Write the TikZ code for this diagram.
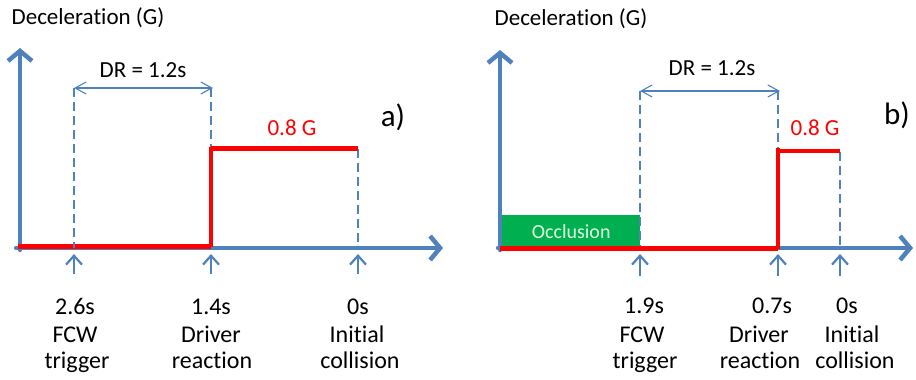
\documentclass[tikz,border=0pt]{standalone}
\usepackage{fontspec}
\setmainfont[Ligatures={NoCommon,NoContextual,NoRare}, Contextuals=NoAlternate]{Carlito}
\usetikzlibrary{arrows.meta}
\definecolor{axisblue}{HTML}{4F81BD}
\definecolor{occgreen}{HTML}{00B050}
\definecolor{redline}{HTML}{FF0000}
\begin{document}
\begin{tikzpicture}[x=1pt,y=-1pt,
  axisline/.style={draw=axisblue, line width=4.5pt, line cap=round, line join=round, -{Straight Barb[length=10pt,width=24pt]}},
  guide/.style={draw=axisblue, line width=1.4pt, dash pattern=on 9pt off 5pt},
  dimline/.style={draw=axisblue, line width=1.1pt, {Straight Barb[length=11pt,width=12pt]}-{Straight Barb[length=11pt,width=12pt]}},
  tickarrow/.style={draw=axisblue, line width=2.2pt, -{Straight Barb[length=9pt,width=16pt]}},
  pulse/.style={draw=redline, line width=4.5pt, line join=miter},
  lbl/.style={font=\fontsize{24}{28}\selectfont, anchor=base, inner sep=0pt},
  ttl/.style={font=\fontsize{23}{27}\selectfont, inner sep=0pt},
  redlbl/.style={font=\fontsize{23}{27}\selectfont, text=redline, inner sep=0pt},
  panel/.style={font=\fontsize{31}{36}\selectfont, inner sep=0pt},
  occl/.style={fill=occgreen, text=white!88!green, font=\fontsize{20}{24}\selectfont, minimum width=138pt, minimum height=33pt, inner sep=0pt, anchor=south west}
]
\useasboundingbox (0,0) rectangle (916,380);

% ---------------- panel a ----------------
\coordinate (aYb) at (20,250);
\coordinate (aYt) at (20,48);
\coordinate (aXl) at (16,248);
\coordinate (aXr) at (443,248);
\coordinate (aT1) at (74,88);   \coordinate (aB1) at (74,248);
\coordinate (aT2) at (211,88);  \coordinate (aB2) at (211,248);
\coordinate (aT3) at (358,149); \coordinate (aB3) at (358,248);
\coordinate (aK1s) at (74,274);  \coordinate (aK1e) at (74,254);
\coordinate (aK2s) at (211,274); \coordinate (aK2e) at (211,254);
\coordinate (aK3s) at (358,274); \coordinate (aK3e) at (358,254);
\coordinate (aR0) at (18,246.5);
\coordinate (aR1) at (211,246.5);
\coordinate (aR2) at (211,147);
\coordinate (aR3) at (358,148.5);

\draw[guide] (aT2) -- (aB2);
\draw[guide] (aT3) -- (aB3);
\draw[axisline] (aYb) -- (aYt);
\draw[axisline] (aXl) -- (aXr);
\draw[dimline] (aT1) -- ([xshift=2pt]aT2);
\draw[tickarrow] (aK1s) -- (aK1e);
\draw[tickarrow] (aK2s) -- (aK2e);
\draw[tickarrow] (aK3s) -- (aK3e);
\draw[pulse] (aR0) -- (aR1);
\draw[pulse] (aR3) -- (aR2 |- aR3) -- (aR2) -- (aR1);
\draw[guide] (aT1) -- (aB1);

\node[ttl] (aTitle) at (88,18) {Decelerat\kern0pt ion (G)};
\node[ttl] (aDR) at (143,70) {DR = 1.2s};
\node[redlbl] (aG) at (292,128) {0.8 G};
\node[panel] (aP) at (393,117) {a)};

\node[lbl] (a1t) at (75,314) {2.6s};
\node[lbl] (a1m) at (75,342) {FCW};
\node[lbl] (a1b) at (77,368) {trigger};
\node[lbl] (a2t) at (211,314) {1.4s};
\node[lbl] (a2m) at (211,342) {Driver};
\node[lbl] (a2b) at (212,368) {react\kern0pt ion};
\node[lbl] (a3t) at (358,314) {0s};
\node[lbl] (a3m) at (357,342) {Initial};
\node[lbl] (a3b) at (360,368) {collision};

% ---------------- panel b ----------------
\coordinate (bYb) at (500,250);
\coordinate (bYt) at (500,50);
\coordinate (bXl) at (498,248);
\coordinate (bXr) at (913,248);
\coordinate (bT1) at (640,91);  \coordinate (bB1) at (640,248);
\coordinate (bT2) at (778,91);  \coordinate (bB2) at (778,248);
\coordinate (bT3) at (840,152); \coordinate (bB3) at (840,248);
\coordinate (bK1s) at (640,276); \coordinate (bK1e) at (640,254);
\coordinate (bK2s) at (778,276); \coordinate (bK2e) at (778,254);
\coordinate (bK3s) at (840,276); \coordinate (bK3e) at (840,254);
\coordinate (bR0) at (500,248.5);
\coordinate (bR1) at (778,248.5);
\coordinate (bR2) at (778,148);
\coordinate (bR3) at (840,151);

\node[occl] (occ) at (502,248) {Occlusion};
\draw[guide] (bT1) -- (bB1);
\draw[guide] (bT2) -- (bB2);
\draw[guide] (bT3) -- (bB3);
\draw[axisline] (bYb) -- (bYt);
\draw[axisline] (bXl) -- (bXr);
\draw[dimline] (bT1) -- ([xshift=2pt]bT2);
\draw[tickarrow] (bK1s) -- (bK1e);
\draw[tickarrow] (bK2s) -- (bK2e);
\draw[tickarrow] (bK3s) -- (bK3e);
\draw[pulse] (bR0) -- (bR1);
\draw[pulse] (bR3) -- (bR2 |- bR3) -- (bR2) -- (bR1);

\node[ttl] (bTitle) at (571,19) {Decelerat\kern0pt ion (G)};
\node[ttl] (bDR) at (712,68) {DR = 1.2s};
\node[redlbl] (bG) at (815,128) {0.8 G};
\node[panel] (bP) at (897,115) {b)};

\node[lbl] (b1t) at (644,313) {1.9s};
\node[lbl] (b1m) at (642,342) {FCW};
\node[lbl] (b1b) at (645,368) {trigger};
\node[lbl] (b2t) at (772,313) {0.7s};
\node[lbl] (b2m) at (759,342) {Driver};
\node[lbl] (b2b) at (760,368) {react\kern0pt ion};
\node[lbl] (b3t) at (847,313) {0s};
\node[lbl] (b3m) at (852,342) {Initial};
\node[lbl] (b3b) at (855,368) {collision};
\end{tikzpicture}
\end{document}
